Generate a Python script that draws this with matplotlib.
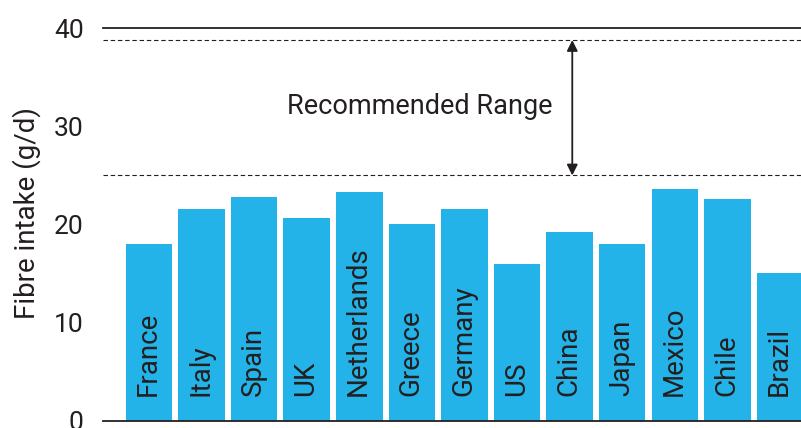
import matplotlib
matplotlib.use("Agg")
import matplotlib.pyplot as plt

countries = ["France", "Italy", "Spain", "UK", "Netherlands", "Greece", "Germany",
             "US", "China", "Japan", "Mexico", "Chile", "Brazil"]
fibre = [18.0, 21.6, 22.8, 20.7, 23.3, 20.1, 21.6, 16.0, 19.2, 18.0, 23.6, 22.6, 15.1]
range_low, range_high = 25.0, 38.8
yticks = [0, 10, 20, 30, 40]

plt.rcParams["font.family"] = ["Roboto", "DejaVu Sans"]
ink = "#231f20"
blue = "#23b3e8"

fig = plt.figure(figsize=(8.01, 4.28), dpi=100)
ax = fig.add_axes([0.1286, 0.0171, 0.8714, 0.9168])

x = list(range(len(countries)))
ax.bar(x, fibre, width=0.885, color=blue, zorder=2)

for xi, name in zip(x, countries):
    ax.text(xi + 0.13, 2.5, name, rotation=90, rotation_mode="anchor",
            ha="left", va="baseline", fontsize=20, color=ink, zorder=3)

# recommended range
for v in (range_low, range_high):
    ax.axhline(v, color=ink, lw=0.8, ls=(0, (4, 2.5)), zorder=1)
ax.annotate("", xy=(8.05, range_high), xytext=(8.05, range_low),
            arrowprops=dict(arrowstyle="<|-|>", color=ink, lw=1.3,
                            mutation_scale=16, shrinkA=0, shrinkB=0))
ax.text(5.15, 32.0, "Recommended Range", ha="center", va="center",
        fontsize=19.5, color=ink)

ax.set_xlim(-0.875, 12.40)
ax.set_ylim(0, 40)
ax.set_yticks(yticks)
ax.set_xticks([])
ax.tick_params(axis="y", length=0, pad=14, labelsize=19, labelcolor=ink)
for s in ("left", "right"):
    ax.spines[s].set_visible(False)
for s in ("top", "bottom"):
    ax.spines[s].set_color(ink)
    ax.spines[s].set_linewidth(1.3)

ax.set_ylabel("Fibre intake (g/d)", fontsize=20, color=ink)
ax.yaxis.set_label_coords(-0.089, 0.53)

fig.savefig("out.png", dpi=100)
